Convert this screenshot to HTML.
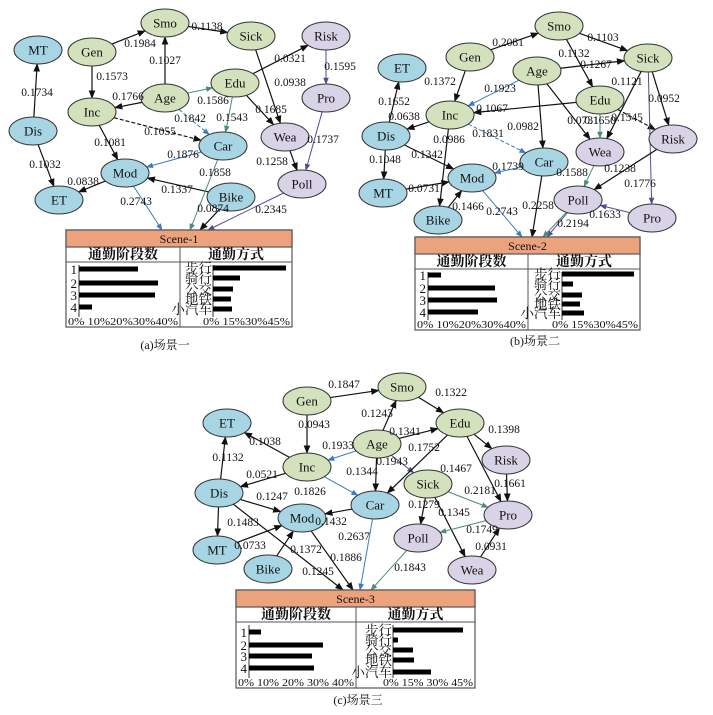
<!DOCTYPE html>
<html><head><meta charset="utf-8">
<style>
html,body{margin:0;padding:0;background:#fff;}
svg{display:block;}
text{font-family:"Liberation Serif","Noto Serif CJK SC","Noto Sans CJK SC",serif;fill:#111;}
</style></head>
<body>
<svg id="s" xmlns="http://www.w3.org/2000/svg" width="713" height="715" viewBox="0 0 713 715">
<defs>
<marker id="mk" viewBox="0 0 10 10" refX="9" refY="5" markerWidth="7" markerHeight="7" orient="auto"><path d="M0,1 L10,5 L0,9 z" fill="#111"/></marker>
<marker id="mb" viewBox="0 0 10 10" refX="9" refY="5" markerWidth="7" markerHeight="7" orient="auto"><path d="M0,1 L10,5 L0,9 z" fill="#3a7cc4"/></marker>
<marker id="mg" viewBox="0 0 10 10" refX="9" refY="5" markerWidth="7" markerHeight="7" orient="auto"><path d="M0,1 L10,5 L0,9 z" fill="#4e8a7c"/></marker>
<marker id="mp" viewBox="0 0 10 10" refX="9" refY="5" markerWidth="7" markerHeight="7" orient="auto"><path d="M0,1 L10,5 L0,9 z" fill="#574a96"/></marker>
</defs>
<g id="edges"></g>
<g id="nodes"></g>
<g id="labels"></g>
<g id="tables"></g>
</svg>
<script>
var NS="http://www.w3.org/2000/svg";
function el(p,t,a,txt){var e=document.createElementNS(NS,t);for(var k in a)e.setAttribute(k,a[k]);if(txt!==undefined)e.textContent=txt;p.appendChild(e);return e;}
var G="#d3e2bd",B="#a7d5e3",P="#d9d3e8";
var RX=24,RY=14;
var COL={k:["#111","mk"],b:["#3a7cc4","mb"],g:["#4e8a7c","mg"],p:["#574a96","mp"]};
var gE=document.getElementById("edges"),gN=document.getElementById("nodes"),gL=document.getElementById("labels"),gT=document.getElementById("tables");

function scene(nodes,edges,labels){
  edges.forEach(function(e){
    var a=nodes[e[0]],b;
    var tgtNode=typeof e[1]==="string";
    b=tgtNode?nodes[e[1]]:e[1];
    var dx=b[0]-a[0],dy=b[1]-a[1];
    var ts=1/Math.sqrt((dx/RX)*(dx/RX)+(dy/RY)*(dy/RY));
    var x1=a[0]+dx*ts,y1=a[1]+dy*ts;
    var x2=b[0],y2=b[1];
    if(tgtNode){x2=b[0]-dx*ts;y2=b[1]-dy*ts;}
    var c=COL[e[2]];
    var at={x1:x1,y1:y1,x2:x2,y2:y2,stroke:c[0],"stroke-width":e[2]=="k"?1.2:1,"marker-end":"url(#"+c[1]+")"};
    if(e[3])at["stroke-dasharray"]="4,2";
    el(gE,"line",at);
  });
  for(var n in nodes){var v=nodes[n];
    el(gN,"ellipse",{cx:v[0],cy:v[1],rx:RX,ry:RY,fill:v[2],stroke:"#333","stroke-width":1});
    el(gN,"text",{x:v[0],y:v[1]+4.5,"text-anchor":"middle","font-size":13},n);
  }
  labels.forEach(function(l){el(gL,"text",{x:l[1],y:l[2],"text-anchor":"middle","font-size":11.5},l[0]);});
}

// Scene 1
scene({
 MT:[38,50,B],Gen:[92,52,G],Smo:[165,23,G],Sick:[251,36,G],Risk:[326,36,P],
 Edu:[235,83,G],Age:[165,98,G],Inc:[92,112,G],Pro:[326,98,P],Dis:[33,131,B],
 Wea:[285,137,P],Car:[223,146,B],Mod:[125,173,B],Poll:[302,184,P],ET:[59,200,B],Bike:[231,197,B]
},[
 ["Gen","Smo","k"],["Smo","Sick","k"],["Gen","Inc","k"],["Age","Smo","k"],["Age","Inc","k"],
 ["Age","Edu","g"],["Age","Car","b",1],["Edu","Risk","k"],["Edu","Car","g"],["Edu","Wea","k"],
 ["Sick","Wea","k"],["Risk","Pro","p"],["Pro","Poll","p"],["Wea","Poll","k"],["Inc","Car","k",1],
 ["Inc","Mod","k"],["Dis","MT","k"],["Dis","ET","k"],["Car","Mod","b"],["Mod","ET","k"],["Bike","Mod","k"],
 ["Mod",[162,230],"b"],["Car",[190,230],"g"],["Bike",[200,230],"k"],["Poll",[208,230],"p"]
],[
 ["0.1984",140,47],["0.1138",207,30],["0.1573",112,80],["0.1027",165,64],["0.1766",128,100],
 ["0.1586",213,104],["0.1842",190,122],["0.0321",290,62],["0.1543",232,121],["0.1685",271,113],
 ["0.0938",290,86],["0.1595",340,70],["0.1737",323,143],["0.1258",272,165],["0.1055",160,135],
 ["0.1081",110,146],["0.1734",37,96],["0.1032",45,168],["0.1876",183,158],["0.0838",83,185],
 ["0.1337",177,193],["0.2743",136,205],["0.1858",215,176],["0.0874",213,212],["0.2345",271,213]
]);

// Scene 2
scene({
 Smo:[559,26,G],Gen:[470,57,G],Sick:[648,58,G],ET:[402,68,B],Age:[537,71,G],Edu:[600,100,G],
 Inc:[450,115,G],Dis:[386,136,B],Risk:[673,139,P],Wea:[600,152,P],Car:[544,162,B],Mod:[472,178,B],
 MT:[383,193,B],Poll:[578,200,P],Pro:[652,218,P],Bike:[438,220,B]
},[
 ["Gen","Smo","k"],["Smo","Sick","k"],["Smo","Edu","k"],["Age","Sick","k"],["Gen","Inc","k"],
 ["Age","Inc","b"],["Edu","Inc","k"],["Age","Car","k"],["Age","Wea","k"],["Edu","Wea","g"],
 ["Edu","Risk","k",1],["Sick","Wea","k"],["Sick","Risk","k"],["Sick","Pro","p"],["Inc","Dis","k"],
 ["Inc","Car","b",1],["Inc","Bike","k"],["Dis","ET","k"],["Dis","MT","k"],["Dis","Mod","k"],
 ["Car","Mod","b"],["MT","Mod","k"],["Bike","Mod","k"],["Wea","Poll","g"],["Risk","Poll","k"],["Pro","Poll","p"],
 ["Mod",[522,237],"b"],["Car",[532,237],"k"],["Poll",[547,237],"p"],["Poll",[543,237],"g"]
],[
 ["0.2081",508,46],["0.1103",603,41],["0.1132",574,57],["0.1267",596,68],["0.1372",440,85],
 ["0.1923",500,92],["0.1067",492,112],["0.0982",523,130],["0.0731",583,124],["0.1650",600,124],
 ["0.1545",627,121],["0.1121",627,85],["0.0952",664,102],["0.1776",640,187],["0.0638",404,120],
 ["0.1831",488,137],["0.0986",449,143],["0.1652",394,105],["0.1048",385,163],["0.1342",427,158],
 ["0.1739",508,170],["0.0731",424,192],["0.1466",468,210],["0.1588",572,176],["0.1238",620,172],
 ["0.1633",605,218],["0.2743",502,215],["0.2258",538,209],["0.2194",573,227]
]);

// Scene 3
scene({
 Smo:[402,387,G],Gen:[307,401,G],ET:[227,423,B],Edu:[460,423,G],Age:[377,444,G],Risk:[506,460,P],
 Inc:[307,467,G],Sick:[428,484,G],Dis:[219,493,B],Car:[375,505,B],Mod:[302,518,B],Pro:[508,515,P],
 Poll:[418,538,P],MT:[217,550,B],Bike:[268,569,B],Wea:[472,570,P]
},[
 ["Gen","Smo","k"],["Smo","Edu","k"],["Age","Smo","k"],["Gen","Inc","k"],["Age","Edu","k"],
 ["Age","Inc","b"],["Age","Sick","p"],["Age","Car","k"],["Edu","Car","k"],["Edu","Risk","k"],
 ["Edu","Pro","k"],["Risk","Pro","k"],["Sick","Pro","g"],["Sick","Poll","k"],["Sick","Wea","k"],
 ["Wea","Pro","k"],["Pro","Poll","g"],["Inc","ET","k"],["Inc","Dis","k"],["Inc","Car","b"],
 ["Dis","ET","k"],["Dis","MT","k"],["Dis","Mod","k"],["Car","Mod","k"],["MT","Mod","k"],["Bike","Mod","k"],
 ["Dis",[343,590],"k"],["Mod",[353,590],"k"],["Car",[360,590],"b"],["Poll",[371,590],"g"]
],[
 ["0.1847",344,388],["0.1322",451,396],["0.1243",377,417],["0.0943",314,428],["0.1341",405,435],
 ["0.1933",338,449],["0.1943",392,465],["0.1344",362,475],["0.1752",424,451],["0.1398",504,433],
 ["0.1467",456,472],["0.1661",510,487],["0.2181",480,494],["0.1279",424,508],["0.1345",454,516],
 ["0.0931",491,550],["0.1749",482,533],["0.1038",265,445],["0.0521",262,478],["0.1826",310,495],
 ["0.1132",228,461],["0.1247",272,500],["0.1432",331,525],["0.1483",243,526],["0.0733",250,549],
 ["0.1372",306,553],["0.1245",318,575],["0.1886",346,561],["0.2637",354,540],["0.1843",410,571]
]);

function table(x,y,w,h,mid,title,lax,lb,rax,rb,ltick,rtick){
  el(gT,"rect",{x:x,y:y,width:w,height:h,fill:"#fff",stroke:"#555","stroke-width":1.2});
  el(gT,"rect",{x:x,y:y,width:w,height:17,fill:"#eba27d",stroke:"#555","stroke-width":1.2});
  el(gT,"text",{x:x+w/2,y:y+13,"text-anchor":"middle","font-size":12},title);
  el(gT,"line",{x1:x,y1:y+32,x2:x+w,y2:y+32,stroke:"#555","stroke-width":1});
  el(gT,"line",{x1:mid,y1:y+17,x2:mid,y2:y+h,stroke:"#555","stroke-width":1});
  el(gT,"text",{x:(x+mid)/2,y:y+29,"text-anchor":"middle","font-size":14,"font-weight":"bold"},"通勤阶段数");
  el(gT,"text",{x:(mid+x+w)/2,y:y+29,"text-anchor":"middle","font-size":14,"font-weight":"bold"},"通勤方式");
  var bot=y+h-10;
  el(gT,"line",{x1:lax,y1:y+35,x2:lax,y2:bot,stroke:"#333","stroke-width":1});
  lb.forEach(function(b,i){
    el(gT,"rect",{x:lax,y:b[0]-2.5,width:b[1]-lax,height:5,fill:"#000"});
    el(gT,"text",{x:lax-2,y:b[0]+5,"text-anchor":"end","font-size":13},String(i+1));
  });
  el(gT,"text",{x:x+2,y:y+h-2,"font-size":11,textLength:mid-x-4,lengthAdjust:"spacingAndGlyphs"},ltick);
  el(gT,"line",{x1:rax,y1:y+35,x2:rax,y2:bot,stroke:"#333","stroke-width":1});
  var nm=["步行","骑行","公交","地铁","小汽车"];
  rb.forEach(function(b,i){
    el(gT,"rect",{x:rax,y:b[0]-2.5,width:b[1]-rax,height:5,fill:"#000"});
    el(gT,"text",{x:rax-1,y:b[0]+5,"text-anchor":"end","font-size":13.5},nm[i]);
  });
  el(gT,"text",{x:rax-10,y:y+h-2,"font-size":11,textLength:x+w-rax+8,lengthAdjust:"spacingAndGlyphs"},rtick);
}
table(66,230,226,97,180,"Scene-1",79,[[269,138],[283,158],[295,155],[307,92]],213,[[268,286],[278,240],[289,233],[299,231],[309,232]],"0% 10%20%30%40%","0% 15%30%45%");
table(415,237,225,93,528,"Scene-2",428,[[275,441],[288,495],[300,497],[312,478]],562,[[274,634],[284,573],[295,582],[304,580],[313,584]],"0% 10%20%30%40%","0% 15%30%45%");
table(236,590,239,98,356,"Scene-3",249,[[632,261],[645,323],[656,312],[668,314]],393,[[630,463],[640,398],[650,413],[660,414],[672,431]],"0%  10% 20% 30% 40%","0%  15% 30% 45%");

el(gT,"text",{x:165,y:349,"text-anchor":"middle","font-size":12},"(a)场景一");
el(gT,"text",{x:535,y:345,"text-anchor":"middle","font-size":12},"(b)场景二");
el(gT,"text",{x:358,y:704,"text-anchor":"middle","font-size":12},"(c)场景三");
</script>
</body></html>
